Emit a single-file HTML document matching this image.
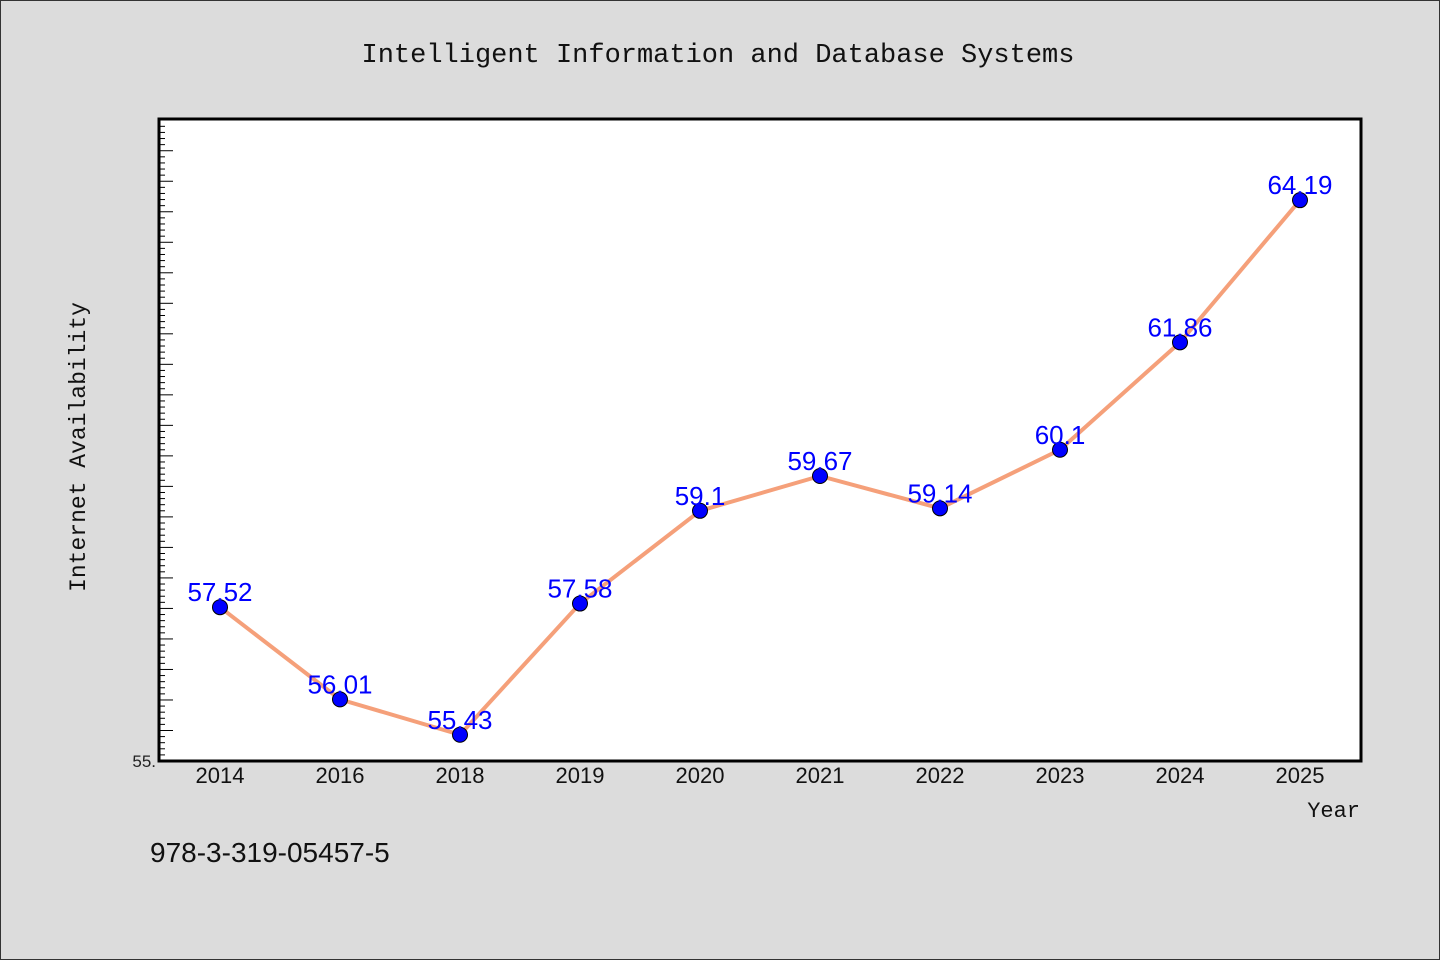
<!DOCTYPE html>
<html><head><meta charset="utf-8"><style>
html,body{margin:0;padding:0;background:#dcdcdc;}
svg{display:block;}
</style></head><body>
<svg id="chart" width="1440" height="960" xmlns="http://www.w3.org/2000/svg">
<rect x="0.5" y="0.5" width="1439" height="959" fill="#dcdcdc" stroke="#333" stroke-width="1"/>
<text x="718" y="62" text-anchor="middle" font-family="Liberation Mono, monospace" font-size="27" fill="#111">Intelligent Information and Database Systems</text>
<rect x="159" y="119" width="1202" height="642" fill="#fff" stroke="#000" stroke-width="3"/>
<g id="ticks"></g>
<text x="156" y="767" text-anchor="end" font-family="Liberation Sans, sans-serif" font-size="17" fill="#222">55.</text>
<g id="xlabels"></g>
<text transform="translate(85,447) rotate(-90)" text-anchor="middle" font-family="Liberation Mono, monospace" font-size="23" fill="#111">Internet Availability</text>
<text x="1360" y="817" text-anchor="end" font-family="Liberation Mono, monospace" font-size="22" fill="#111">Year</text>
<text x="150" y="862" font-family="Liberation Sans, sans-serif" font-size="28" fill="#111">978-3-319-05457-5</text>
<g id="series"></g>
</svg>
<script>
const categories = ["2014","2016","2018","2019","2020","2021","2022","2023","2024","2025"];
const values = [57.52,56.01,55.43,57.58,59.1,59.67,59.14,60.1,61.86,64.19];
const valueLabels = ["57.52","56.01","55.43","57.58","59.1","59.67","59.14","60.1","61.86","64.19"];
const yMin = 55, yMax = 65.52;
const NS="http://www.w3.org/2000/svg";
const px0=159, px1=1361, py0=761, py1=119;
const xScale = i => 220 + i*120;
const yScale = v => py0 - (v-yMin)/(yMax-yMin)*(py0-py1);
function mk(tag, attrs, parent){const e=document.createElementNS(NS,tag);for(const k in attrs)e.setAttribute(k,attrs[k]);parent.appendChild(e);return e;}
const ticks=document.getElementById('ticks');
for(let k=0;k*0.1<=yMax-yMin+1e-9;k++){
  const v=yMin+k*0.1; const y=yScale(v);
  if(y<py1+2) continue;
  const major = k%5===0;
  const t=mk('line',{x1:px0,x2:px0+(major?14:6),y1:y,y2:y,stroke:'#000','stroke-width':1},ticks);
  
  
}
const xl=document.getElementById('xlabels');
categories.forEach((c,i)=>{
  const t=mk('text',{x:xScale(i),y:783,'text-anchor':'middle','font-family':'Liberation Sans, sans-serif','font-size':22,fill:'#111'},xl);
  t.textContent=c;
  
  
});
const s=document.getElementById('series');
const pl=mk('polyline',{points:values.map((v,i)=>xScale(i)+','+yScale(v)).join(' '),fill:'none',stroke:'#f5a07a','stroke-width':4,'stroke-linejoin':'round'},s);


values.forEach((v,i)=>{
  const c=mk('circle',{cx:xScale(i),cy:yScale(v),r:7.5,fill:'#0000ff',stroke:'#000','stroke-width':1},s);
  
  
  const t=mk('text',{x:xScale(i),y:yScale(v)-6,'text-anchor':'middle','font-family':'Liberation Sans, sans-serif','font-size':26,fill:'#0000ff'},s);
  t.textContent=valueLabels[i];
  
  
});
</script>
</body></html>
